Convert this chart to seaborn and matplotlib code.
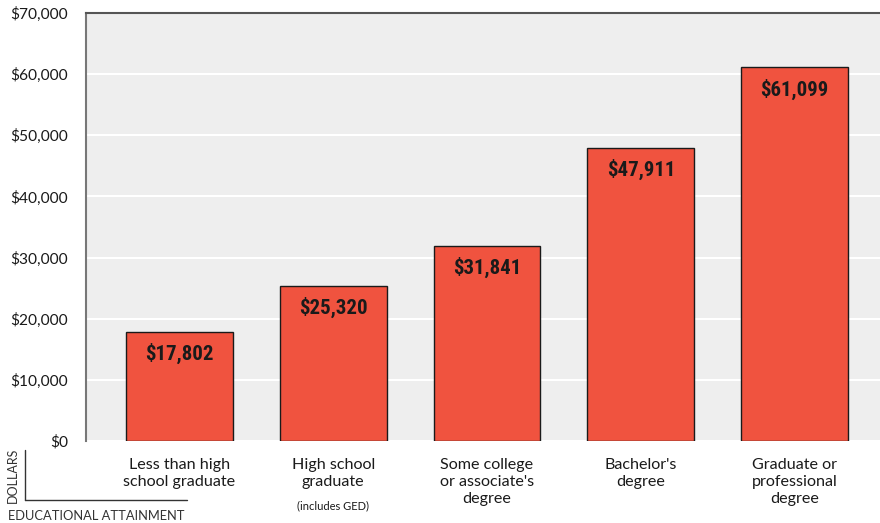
import matplotlib
matplotlib.use("Agg")
import matplotlib.pyplot as plt
import seaborn as sns
import pandas as pd
from matplotlib.ticker import FuncFormatter, MultipleLocator
from matplotlib.transforms import blended_transform_factory
from matplotlib import font_manager

categories = ["Less than high\nschool graduate", "High school\ngraduate",
              "Some college\nor associate's\ndegree", "Bachelor's\ndegree",
              "Graduate or\nprofessional\ndegree"]
earnings = [17802, 25320, 31841, 47911, 61099]
value_labels = ["$17,802", "$25,320", "$31,841", "$47,911", "$61,099"]

sns.set_theme(style="white")
plt.rcParams['font.family'] = ['Lato', 'DejaVu Sans']

names = sorted({f.name for f in font_manager.fontManager.ttflist})
narrow = None
for cand in ["Liberation Sans Narrow", "Roboto Condensed", "Open Sans Condensed", "DejaVu Sans Condensed"]:
    if cand in names:
        narrow = cand
        break

df = pd.DataFrame({"cat": categories, "val": earnings})

fig = plt.figure(figsize=(8.8, 5.23), dpi=100)
ax = fig.add_axes([86/880, 1-441/523, 1-86/880, (441-13)/523])
ax.set_facecolor("#eeeeee")

sns.barplot(data=df, x="cat", y="val", color="#f0533f", width=0.695,
            edgecolor="#1a1a1a", linewidth=1.0, saturation=1, ax=ax, zorder=3)

ax.set_ylim(0, 70000)
ax.set_xlim(-0.607, 4.555)
ax.yaxis.set_major_locator(MultipleLocator(10000))
ax.yaxis.set_major_formatter(FuncFormatter(lambda v, p: f"${v:,.0f}"))
ax.grid(axis="y", color="white", linewidth=1.5, zorder=0)
ax.set_axisbelow(True)
ax.set_xlabel("")
ax.set_ylabel("")

for s in ["right", "bottom"]:
    ax.spines[s].set_visible(False)
ax.spines["top"].set_color("#555555")
ax.spines["top"].set_linewidth(1.5)
ax.spines["left"].set_color("#777777")
ax.spines["left"].set_linewidth(1.5)

ax.tick_params(axis="y", length=0, labelsize=11.2, pad=13, labelcolor="#1a1a1a")
ax.tick_params(axis="x", length=0, labelsize=11.6, pad=12, labelcolor="#1a1a1a")
for t in ax.get_xticklabels():
    t.set_linespacing(1.3)
    t.set_va("top")

lab_family = [narrow, 'Lato', 'DejaVu Sans'] if narrow else ['Lato', 'DejaVu Sans']
for i, (v, lab) in enumerate(zip(earnings, value_labels)):
    ax.annotate(lab, (i, v), xytext=(0, -15.5), textcoords="offset points",
                ha="center", va="center", fontsize=15, fontweight="bold",
                family=lab_family, color="#1a1a1a", zorder=5)

trans = blended_transform_factory(ax.transData, fig.transFigure)
ax.text(1, 1-506/523, "(includes GED)", transform=trans, ha="center", va="center",
        fontsize=8, color="#1a1a1a")

# axis legend icon
fig.add_artist(plt.Line2D([25/880, 25/880], [1-450/523, 1-500/523], color="#333333", lw=1))
fig.add_artist(plt.Line2D([25/880, 187/880], [1-500/523, 1-500/523], color="#333333", lw=1))
fig.text(13/880, 1-475/523, "DOLLARS", rotation=90, ha="center", va="center",
         fontsize=9, color="#333333")
fig.text(8/880, 1-516/523, "EDUCATIONAL ATTAINMENT", ha="left", va="center",
         fontsize=9.3, color="#333333")

fig.savefig("out.png", dpi=100)
